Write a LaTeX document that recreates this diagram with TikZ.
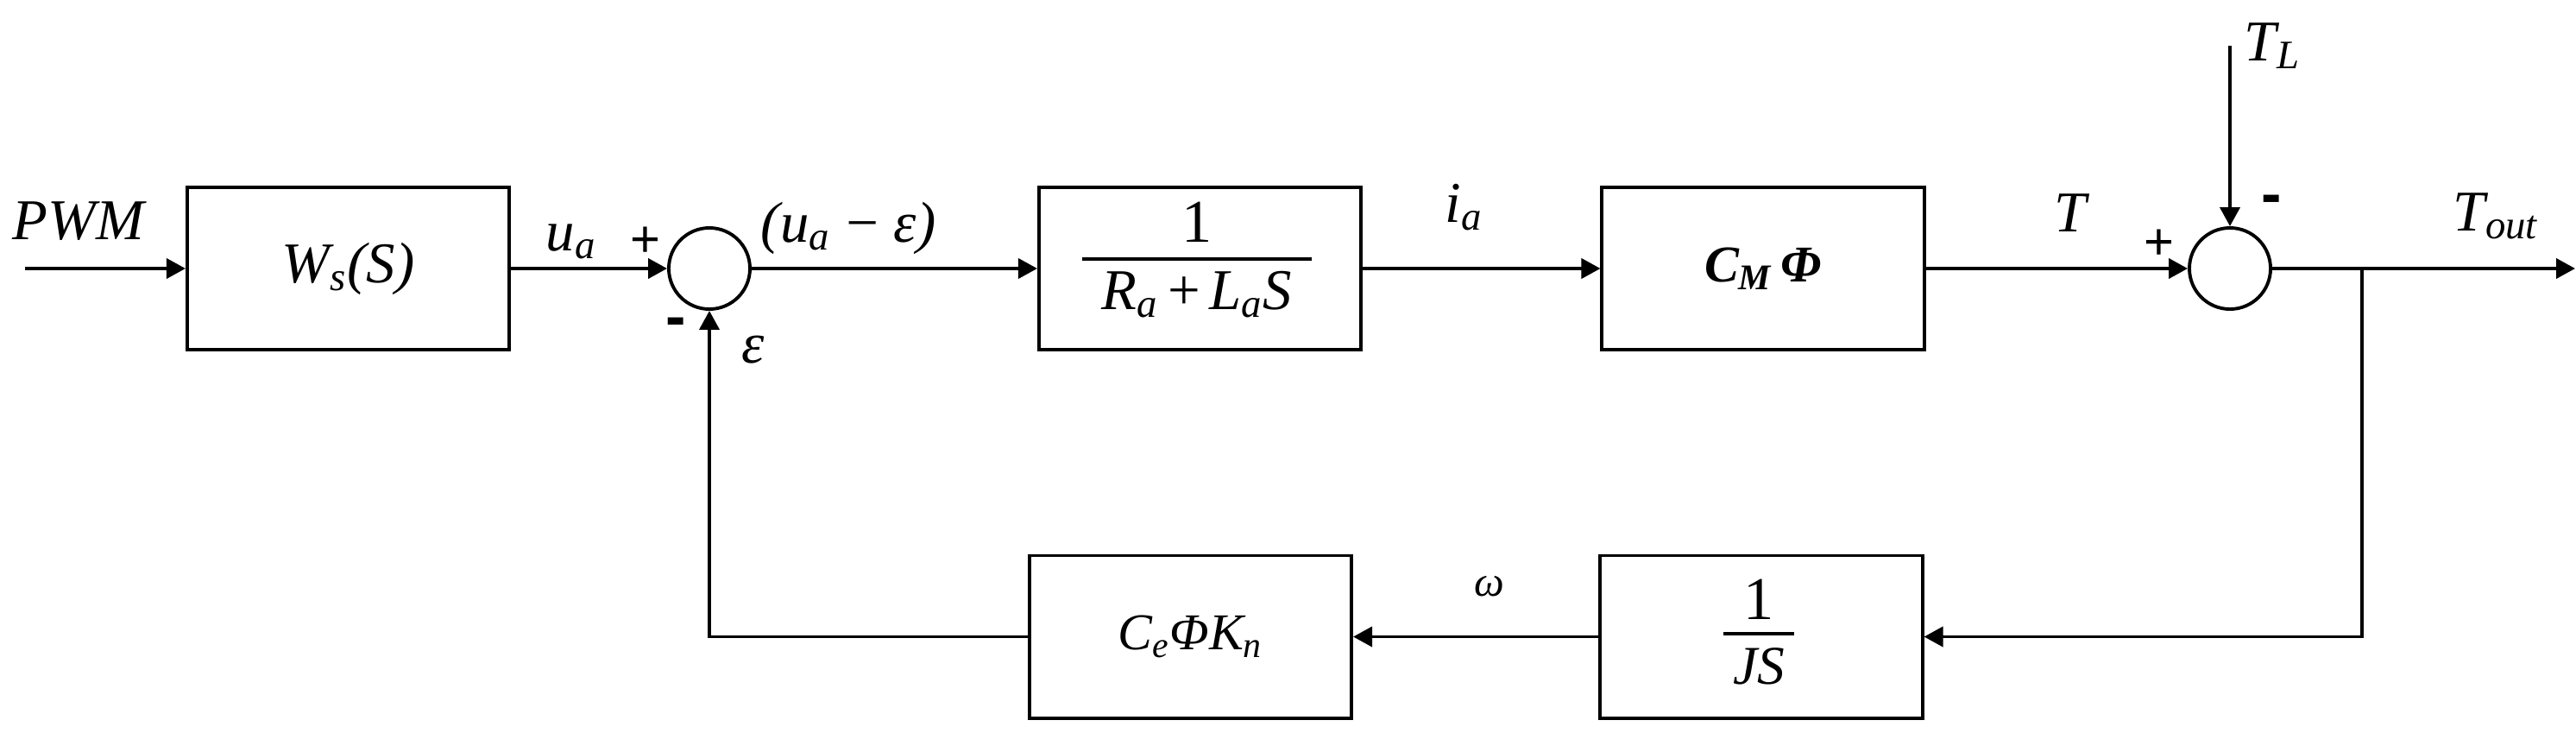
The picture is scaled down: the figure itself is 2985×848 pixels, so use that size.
\documentclass[tikz,border=0pt]{standalone}
\usepackage{fontspec}
\setmainfont{Liberation Serif}
\newfontfamily\signfont{Liberation Sans}
\usetikzlibrary{arrows.meta}
\newcommand{\lsb}[1]{\textsubscript{#1}}
\begin{document}
\begin{tikzpicture}[x=0.01cm,y=-0.01cm,
  line width=1.1pt,
  every node/.style={font=\fontsize{19}{23}\selectfont\itshape, inner sep=0pt},
  blk/.style={draw, line width=1.1pt, minimum width=3.73cm, minimum height=1.88cm, inner sep=0pt},
  sumc/.style={draw, circle, line width=1.1pt, minimum size=0.94cm, inner sep=0pt},
  plussig/.style={font=\fontsize{17}{19}\selectfont\signfont},
  minussig/.style={font=\fontsize{20}{22}\selectfont\signfont\bfseries},
  arr/.style={-{Triangle[length=0.22cm,width=0.23cm]}},
  fbar/.style={line width=1.1pt}
]
\useasboundingbox (0,0) rectangle (2985,848);

% blocks
\node[blk] (ws) at (403.5,311) {W\lsb{s}(S)};
\node[blk] (g2) at (1390.5,311) {};
\node[blk, font=\fontsize{17}{20}\selectfont\bfseries\itshape] (g3) at (2043,311) {C\lsb{M}\,Φ};
\node[blk, font=\fontsize{17}{20}\selectfont\itshape] (ce) at (1379.5,737.5) {C\lsb{e}ΦK\lsb{n}};
\node[blk] (js) at (2041,737.5) {};

% fractions
\node[anchor=base, font=\fontsize{20}{23}\selectfont\upshape] (g2n) at (1387,280) {1};
\node[anchor=base] (g2d) at (1387,358) {R\lsb{a}\kern3pt{\upshape +}\kern3pt L\lsb{a}S};
\draw[fbar] (1254,300) -- (1520,300);
\node[anchor=base, font=\fontsize{20}{23}\selectfont\upshape] (jsn) at (2038,717) {1};
\node[anchor=base, font=\fontsize{18}{20}\selectfont\itshape] (jsd) at (2038,792) {JS};
\draw[fbar] (1997,734) -- (2079,734);

% summing junctions
\node[sumc] (s1) at (822,311) {};
\node[sumc] (s2) at (2584,311) {};

% free ends
\coordinate (in) at (29,311);
\coordinate (tl) at (2584,53);
\coordinate (out) at (2984,311);
\coordinate (br) at (2737,311);

% connectors
\draw[arr] (in) -- (ws.west);
\draw[arr] (ws.east) -- (s1.west);
\draw[arr] (s1.east) -- (g2.west);
\draw[arr] (g2.east) -- (g3.west);
\draw[arr] (g3.east) -- (s2.west);
\draw[arr] (tl) -- (s2.north);
\draw[arr] (s2.east) -- (out);
\draw[arr] (br) |- (js.east);
\draw[arr] (js.west) -- (ce.east);
\draw[arr] (ce.west) -| (s1.south);

% labels
\node[anchor=base west] (lpwm) at (13,277) {PWM};
\node[anchor=base west] (lua) at (631,290) {u\lsb{a}};
\node[plussig] (p1) at (748,280) {+};
\node[minussig] (m1) at (783,379) {-};
\node[anchor=base west] (leps) at (858,420) {ε};
\node[anchor=base west] (ldiff) at (880,280) {(u\lsb{a}\kern4pt−\kern4pt ε)};
\node[anchor=base west] (lia) at (1673,257) {i\lsb{a}};
\node[anchor=base west] (lT) at (2379,268) {T};
\node[plussig] (p2) at (2502,283) {+};
\node[minussig] (m2) at (2632,237) {-};
\node[anchor=base west] (lTL) at (2599,70) {T\lsb{L}};
\node[anchor=base west] (lTo) at (2841,267) {T\lsb{out}};
\node[anchor=base west, font=\fontsize{14}{16}\selectfont\itshape] (lw) at (1707,690) {ω};
\end{tikzpicture}
\end{document}
